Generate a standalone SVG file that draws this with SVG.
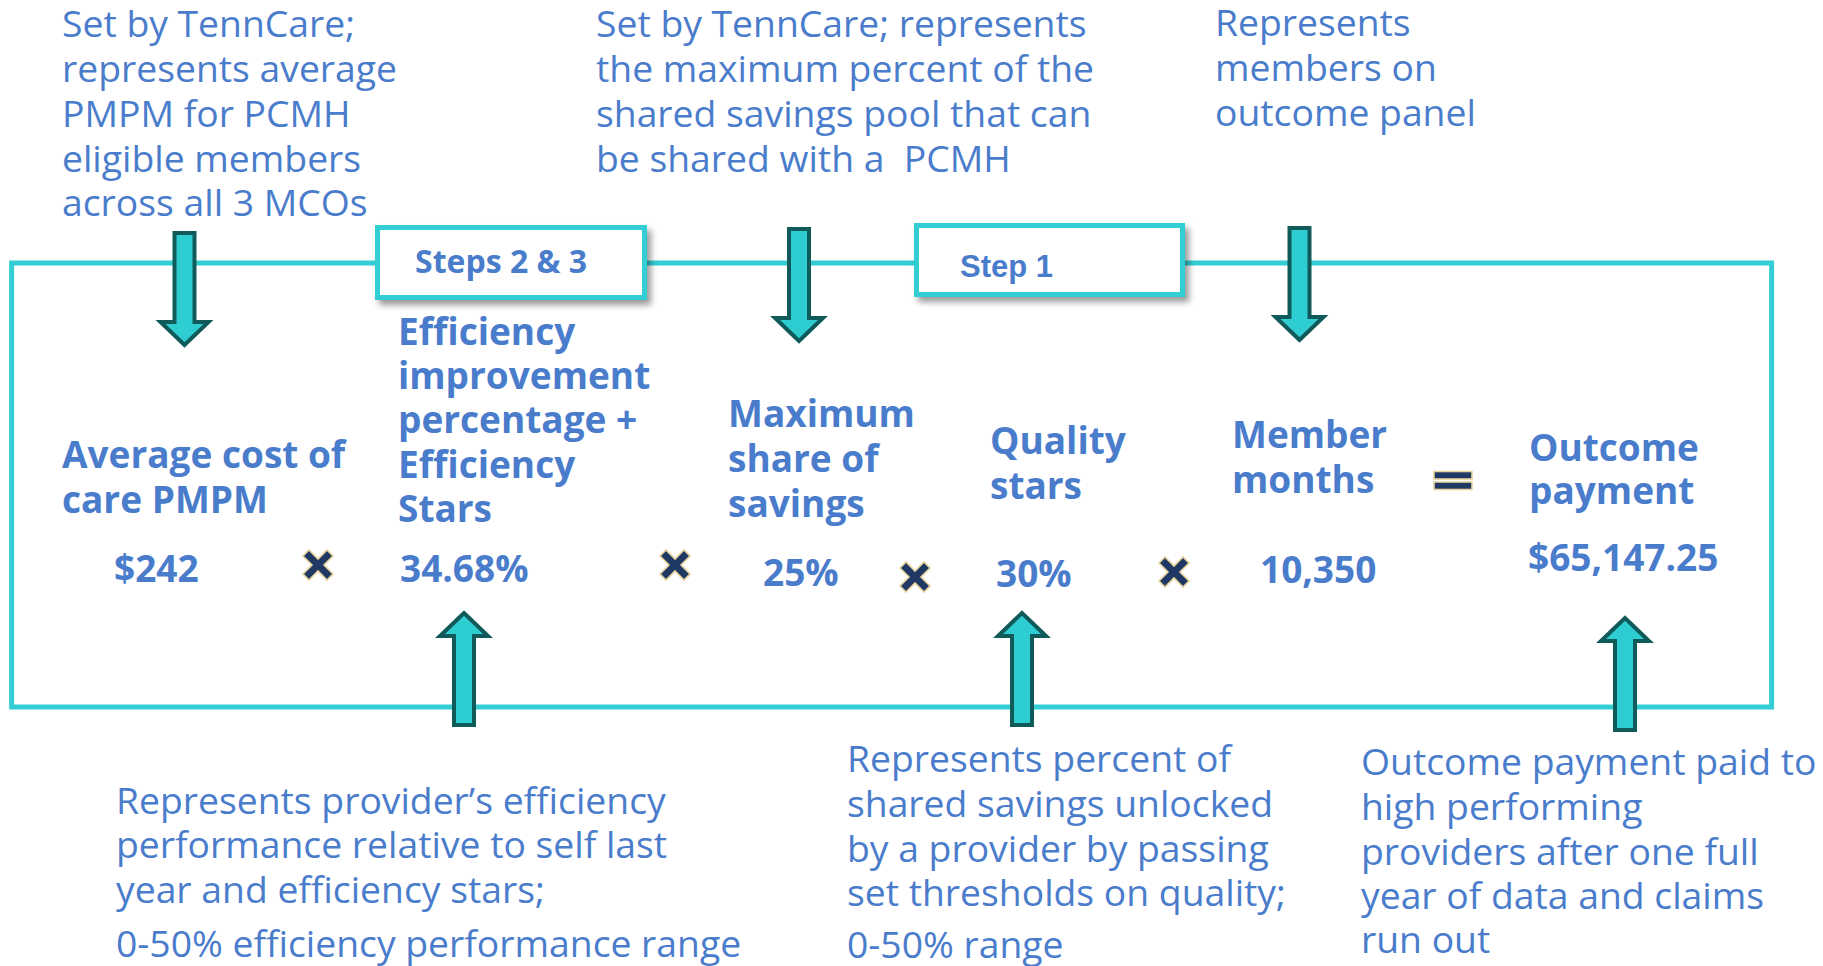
<svg xmlns="http://www.w3.org/2000/svg" width="1823" height="966" viewBox="0 0 1823 966">
<style>
.note{font-family:"Open Sans","Liberation Sans",sans-serif;font-size:37.3px;fill:#4a7ccc}
.lbl{font-family:"Open Sans","Liberation Sans",sans-serif;font-size:37px;font-weight:bold;fill:#4a7ccc}
.step{fill:#ffffff;stroke:#33ced3;stroke-width:5}
.arrow{fill:#2ecdd2;stroke:#105a5a;stroke-width:4;stroke-linejoin:miter}
.op{fill:#1f3864;stroke:#e6d39e;stroke-width:1.6}
</style>
<defs>
<filter id="sh" x="-10%" y="-20%" width="130%" height="160%">
<feDropShadow dx="4" dy="5" stdDeviation="3" flood-color="#000" flood-opacity="0.4"/>
</filter>
<path id="darrow" class="arrow" d="M-10,2 H10 V91 H24 L0,114 L-24,91 H-10 Z"/>
<path id="times" class="op" d="M-15,-9 L-9,-15 L0,-6 L9,-15 L15,-9 L6,0 L15,9 L9,15 L0,6 L-9,15 L-15,9 L-6,0 Z"/>
</defs>
<rect width="1823" height="966" fill="#ffffff"/>

<g id="frame">
<rect x="11.6" y="263" width="1760" height="444" fill="none" stroke="#33ced3" stroke-width="5"/>
</g>

<g id="step23">
<rect class="step" x="377.5" y="227.5" width="267" height="70" filter="url(#sh)"/>
<text x="415" y="273" style="font-family:'Open Sans','Liberation Sans',sans-serif;font-weight:bold;font-size:32px;fill:#4a7ccc">Steps 2 &amp; 3</text>
</g>
<g id="step1">
<rect class="step" x="916.5" y="225.5" width="266" height="69" filter="url(#sh)"/>
<text x="960" y="277" style="font-family:'Liberation Sans',Arial,sans-serif;font-weight:bold;font-size:31px;fill:#4a7ccc">Step 1</text>
</g>

<g id="connectors">
<use href="#darrow" transform="translate(184.5,231)"/>
<use href="#darrow" transform="translate(799,227)"/>
<use href="#darrow" transform="translate(1299.5,226)"/>
<use href="#darrow" transform="translate(464,727) scale(1,-1)"/>
<use href="#darrow" transform="translate(1022,727) scale(1,-1)"/>
<use href="#darrow" transform="translate(1625,732) scale(1,-1)"/>
</g>

<g id="note-avg">
<text class="note" x="62" y="37">Set by TennCare;</text>
<text class="note" x="62" y="82">represents average</text>
<text class="note" x="62" y="127">PMPM for PCMH</text>
<text class="note" x="62" y="172">eligible members</text>
<text class="note" x="62" y="216">across all 3 MCOs</text>
</g>
<g id="note-max">
<text class="note" x="596" y="37">Set by TennCare; represents</text>
<text class="note" x="596" y="82">the maximum percent of the</text>
<text class="note" x="596" y="127">shared savings pool that can</text>
<text class="note" x="596" y="172">be shared with a&#160; PCMH</text>
</g>
<g id="note-members">
<text class="note" x="1215" y="36">Represents</text>
<text class="note" x="1215" y="81">members on</text>
<text class="note" x="1215" y="126">outcome panel</text>
</g>

<g id="avg-cost">
<text class="lbl" x="62" y="468">Average cost of</text>
<text class="lbl" x="62" y="513">care PMPM</text>
<text class="lbl" x="114" y="582">$242</text>
</g>
<use href="#times" x="318" y="565"/>
<g id="efficiency">
<text class="lbl" x="398" y="345">Efficiency</text>
<text class="lbl" x="398" y="389">improvement</text>
<text class="lbl" x="398" y="433">percentage +</text>
<text class="lbl" x="398" y="478">Efficiency</text>
<text class="lbl" x="398" y="522">Stars</text>
<text class="lbl" x="400" y="582">34.68%</text>
</g>
<use href="#times" x="675" y="565"/>
<g id="max-share">
<text class="lbl" x="728" y="427">Maximum</text>
<text class="lbl" x="728" y="472">share of</text>
<text class="lbl" x="728" y="517">savings</text>
<text class="lbl" x="763" y="586">25%</text>
</g>
<use href="#times" x="915" y="577"/>
<g id="quality">
<text class="lbl" x="990" y="454">Quality</text>
<text class="lbl" x="990" y="499">stars</text>
<text class="lbl" x="996" y="587">30%</text>
</g>
<use href="#times" x="1174" y="572"/>
<g id="member-months">
<text class="lbl" x="1232" y="448">Member</text>
<text class="lbl" x="1232" y="493">months</text>
<text class="lbl" x="1260" y="583">10,350</text>
</g>
<g id="equals">
<rect class="op" x="1434" y="471.5" width="38" height="7.5"/>
<rect class="op" x="1434" y="482" width="38" height="7.5"/>
</g>
<g id="outcome">
<text class="lbl" x="1529" y="461">Outcome</text>
<text class="lbl" x="1529" y="504">payment</text>
<text class="lbl" x="1528" y="571">$65,147.25</text>
</g>

<g id="note-eff">
<text class="note" x="116" y="814">Represents provider’s efficiency</text>
<text class="note" x="116" y="858">performance relative to self last</text>
<text class="note" x="116" y="903">year and efficiency stars;</text>
<text class="note" x="116" y="957">0-50% efficiency performance range</text>
</g>
<g id="note-quality">
<text class="note" x="847" y="772">Represents percent of</text>
<text class="note" x="847" y="817">shared savings unlocked</text>
<text class="note" x="847" y="862">by a provider by passing</text>
<text class="note" x="847" y="906">set thresholds on quality;</text>
<text class="note" x="847" y="958">0-50% range</text>
</g>
<g id="note-outcome">
<text class="note" x="1361" y="775">Outcome payment paid to</text>
<text class="note" x="1361" y="820">high performing</text>
<text class="note" x="1361" y="865">providers after one full</text>
<text class="note" x="1361" y="909">year of data and claims</text>
<text class="note" x="1361" y="953">run out</text>
</g>
</svg>
